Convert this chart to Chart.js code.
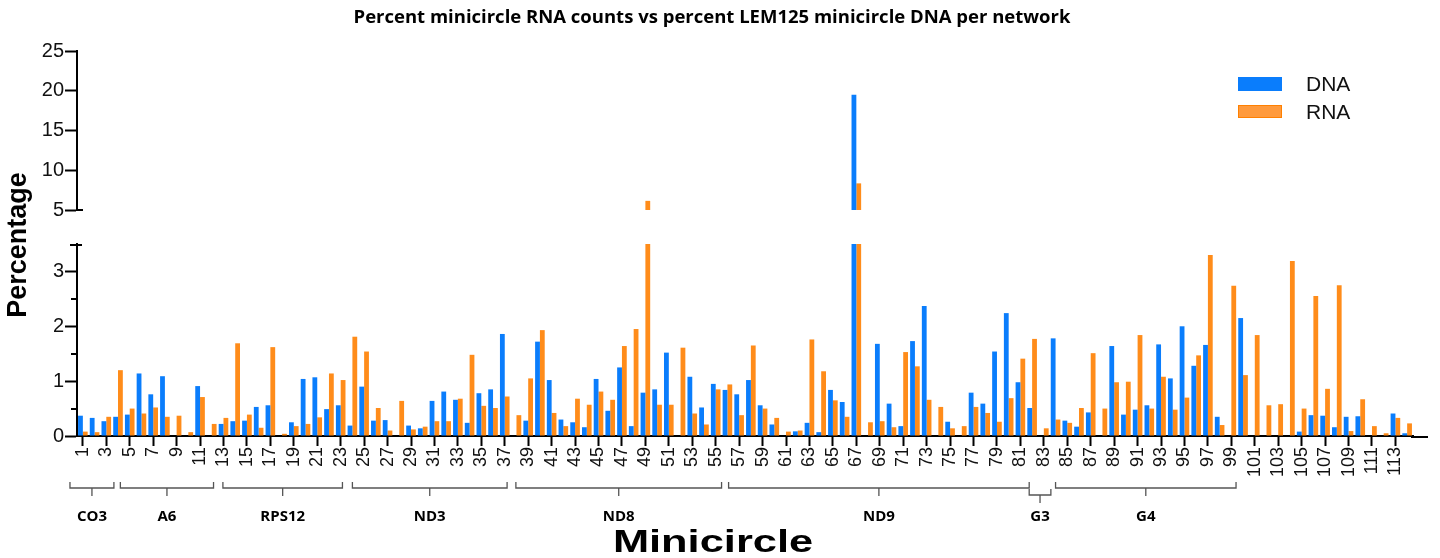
<!DOCTYPE html>
<html>
<head>
<meta charset="utf-8">
<script src="https://cdn.jsdelivr.net/npm/chart.js@4"></script>
<style>
  html, body { margin: 0; padding: 0; background: #fff; }
  canvas { display: block; }
</style>
</head>
<body>
<canvas id="chart" width="1440" height="558"></canvas>
<script>
// minicircle numbers 1..114
const minicircles = Array.from({ length: 114 }, (_, i) => String(i + 1));

// percent of LEM125 minicircle DNA per network
const dnaValues = [
  0.37, 0.33, 0.27, 0.35, 0.39, 1.14, 0.76, 1.09, 0, 0,
  0.91, 0, 0.22, 0.27, 0.28, 0.53, 0.56, 0, 0.25, 1.04,
  1.07, 0.49, 0.56, 0.19, 0.90, 0.28, 0.29, 0, 0.19, 0.14,
  0.64, 0.81, 0.66, 0.24, 0.78, 0.85, 1.86, 0, 0.28, 1.72,
  1.02, 0.30, 0.25, 0.16, 1.04, 0.46, 1.25, 0.18, 0.79, 0.85,
  1.52, 0, 1.08, 0.52, 0.95, 0.84, 0.76, 1.02, 0.56, 0.21,
  0, 0.085, 0.24, 0.07, 0.84, 0.62, 19.5, 0, 1.68, 0.59,
  0.18, 1.73, 2.37, 0, 0.26, 0, 0.79, 0.59, 1.54, 2.24,
  0.98, 0.51, 0, 1.78, 0.28, 0.17, 0.43, 0, 1.64, 0.39,
  0.48, 0.56, 1.67, 1.05, 2.0, 1.28, 1.66, 0.35, 0, 2.15,
  0, 0, 0, 0, 0.08, 0.38, 0.37, 0.16, 0.35, 0.36,
  0, 0, 0.41, 0.05
];

// percent of minicircle RNA counts
const rnaValues = [
  0.08, 0.07, 0.35, 1.2, 0.50, 0.41, 0.52, 0.35, 0.37, 0.07,
  0.71, 0.22, 0.33, 1.69, 0.39, 0.15, 1.62, 0.04, 0.18, 0.22,
  0.34, 1.14, 1.02, 1.81, 1.54, 0.51, 0.10, 0.64, 0.12, 0.17,
  0.27, 0.27, 0.68, 1.48, 0.55, 0.51, 0.72, 0.38, 1.05, 1.93,
  0.42, 0.18, 0.68, 0.57, 0.81, 0.66, 1.64, 1.95, 6.15, 0.57,
  0.57, 1.61, 0.41, 0.21, 0.85, 0.94, 0.38, 1.65, 0.50, 0.33,
  0.08, 0.10, 1.76, 1.18, 0.65, 0.35, 8.35, 0.25, 0.27, 0.16,
  1.53, 1.27, 0.66, 0.53, 0.14, 0.18, 0.53, 0.42, 0.26, 0.69,
  1.41, 1.77, 0.14, 0.30, 0.24, 0.51, 1.51, 0.50, 0.98, 0.99,
  1.84, 0.50, 1.08, 0.48, 0.70, 1.47, 3.30, 0.20, 2.74, 1.11,
  1.84, 0.56, 0.58, 3.19, 0.50, 2.55, 0.86, 2.75, 0.09, 0.67,
  0.18, 0.05, 0.33, 0.23
];

// y tick values of both axis segments
const lowTicks = [0, 1, 2, 3];
const lowMinorTicks = [0.5, 1.5, 2.5];
const highTicks = [5, 10, 15, 20, 25];

// gene groups under the x axis (bracket ends in minicircle units)
const groups = [
  { name: 'CO3', from: -0.1, to: 3.65 },
  { name: 'A6', from: 4.2, to: 12.15 },
  { name: 'RPS12', from: 12.95, to: 23.15 },
  { name: 'ND3', from: 24.0, to: 37.2 },
  { name: 'ND8', from: 37.95, to: 55.5 },
  { name: 'ND9', from: 56.1, to: 81.75 },
  { name: 'G3', from: 81.75, to: 83.6, low: true },
  { name: 'G4', from: 84.0, to: 99.4 }
];

const BLUE = '#0a7dfc';
const ORANGE = '#ff8c1a';

const decor = {
  id: 'decor',
  afterDraw(chart) {
    const { ctx, chartArea, scales } = chart;
    const x = scales.x, yLow = scales.y, yHigh = scales.y2;
    const left = chartArea.left;
    ctx.save();
    ctx.strokeStyle = '#000';
    ctx.lineWidth = 2;

    // minor ticks on the lower segment
    lowMinorTicks.forEach(v => {
      const py = Math.round(yLow.getPixelForValue(v));
      ctx.beginPath(); ctx.moveTo(left - 6, py); ctx.lineTo(left, py); ctx.stroke();
    });
    // break caps
    let py = Math.round(yLow.getPixelForValue(3.5)) + 1;
    ctx.beginPath(); ctx.moveTo(left - 7, py); ctx.lineTo(left + 5, py); ctx.stroke();
    py = Math.round(yHigh.getPixelForValue(5));
    ctx.beginPath(); ctx.moveTo(left, py); ctx.lineTo(left + 6, py); ctx.stroke();

    // x axis line runs a bit past the last bar
    py = chartArea.bottom;
    ctx.beginPath(); ctx.moveTo(chartArea.right - 2, py + 1); ctx.lineTo(chartArea.right + 15, py + 1); ctx.stroke();

    // title
    ctx.fillStyle = '#000';
    ctx.textAlign = 'center';
    ctx.textBaseline = 'middle';
    ctx.font = 'bold 18.5px "Open Sans"';
    ctx.fillText('Percent minicircle RNA counts vs percent LEM125 minicircle DNA per network', 712, 18);

    // axis titles
    ctx.save();
    ctx.translate(713, 543);
    ctx.scale(1.4, 1);
    ctx.font = 'bold 31px "Liberation Sans"';
    ctx.fillText('Minicircle', 0, 0);
    ctx.restore();
    ctx.save();
    ctx.translate(19, 245);
    ctx.rotate(-Math.PI / 2);
    ctx.font = 'bold 27px "Liberation Sans"';
    ctx.fillText('Percentage', 0, 0);
    ctx.restore();

    // gene brackets
    ctx.strokeStyle = '#555';
    ctx.lineWidth = 1.3;
    ctx.font = 'bold 15px "Open Sans"';
    groups.forEach(g => {
      const x0 = x.getPixelForValue(g.from - 1);
      const x1 = x.getPixelForValue(g.to - 1);
      const by = g.low ? 495 : 488;
      const mid = (x0 + x1) / 2;
      ctx.beginPath();
      ctx.moveTo(x0, by - 6); ctx.lineTo(x0, by); ctx.lineTo(x1, by); ctx.lineTo(x1, by - 6);
      ctx.moveTo(mid, by); ctx.lineTo(mid, by + 8);
      ctx.stroke();
      ctx.fillText(g.name, mid, 517);
    });

    // legend
    ctx.textAlign = 'left';
    ctx.font = '21px "Liberation Sans"';
    ctx.fillStyle = BLUE;
    ctx.fillRect(1238, 77, 44, 14);
    ctx.fillStyle = '#ff9a3c';
    ctx.fillRect(1238, 105, 44, 13);
    ctx.strokeStyle = '#ff8000';
    ctx.lineWidth = 1;
    ctx.strokeRect(1238.5, 105.5, 43, 12);
    ctx.fillStyle = '#111';
    ctx.fillText('DNA', 1306, 85);
    ctx.fillText('RNA', 1306, 113);
    ctx.restore();
  }
};

const axisFont = { family: '"Liberation Sans", Arial, sans-serif', size: 20 };

new Chart(document.getElementById('chart'), {
  type: 'bar',
  data: {
    labels: minicircles,
    datasets: [
      { label: 'DNA', data: dnaValues, backgroundColor: BLUE, stack: 'dna', yAxisID: 'y' },
      { label: 'RNA', data: rnaValues, backgroundColor: ORANGE, stack: 'rna', yAxisID: 'y' },
      { label: 'DNA', data: dnaValues.map(v => (v > 5 ? v : null)), backgroundColor: BLUE, stack: 'dna', yAxisID: 'y2' },
      { label: 'RNA', data: rnaValues.map(v => (v > 5 ? v : null)), backgroundColor: ORANGE, stack: 'rna', yAxisID: 'y2' }
    ]
  },
  options: {
    responsive: false,
    animation: false,
    devicePixelRatio: 1,
    layout: { padding: { top: 51, left: 0, right: 27, bottom: 0 } },
    datasets: { bar: { categoryPercentage: 0.82, barPercentage: 1.0, borderWidth: 0 } },
    plugins: { legend: { display: false }, tooltip: { enabled: false }, title: { display: false } },
    scales: {
      x: {
        type: 'category',
        offset: true,
        grid: { offset: false, drawOnChartArea: false, tickLength: 10, tickWidth: 2, tickColor: '#000' },
        border: { color: '#000', width: 2 },
        ticks: {
          autoSkip: false, minRotation: 90, maxRotation: 90, padding: 1,
          color: '#111', font: { family: axisFont.family, size: 18 },
          callback: (v, i) => (i % 2 === 0 ? minicircles[i] : null)
        },
        afterFit: s => { s.height = 122; }
      },
      y: {
        type: 'linear', stack: 'v', stackWeight: 192, weight: 1, position: 'left', stacked: false,
        min: 0, max: 3.5,
        grid: { drawOnChartArea: false, tickLength: 12, tickWidth: 2, tickColor: '#000' },
        border: { color: '#000', width: 2 },
        ticks: {
          color: '#111', font: axisFont, padding: 1, includeBounds: false, stepSize: 1, autoSkip: false,
          callback: v => (lowTicks.includes(v) ? String(v) : null)
        },
        afterFit: s => { s.width = 77; }
      },
      gap: {
        type: 'linear', stack: 'v', stackWeight: 34, weight: 2, position: 'left', display: false
      },
      y2: {
        type: 'linear', stack: 'v', stackWeight: 159, weight: 3, position: 'left', stacked: false,
        min: 5, max: 25,
        grid: { drawOnChartArea: false, tickLength: 12, tickWidth: 2, tickColor: '#000' },
        border: { color: '#000', width: 2 },
        ticks: {
          color: '#111', font: axisFont, padding: 1, stepSize: 5, autoSkip: false,
          callback: v => (highTicks.includes(v) ? String(v) : null)
        },
        afterFit: s => { s.width = 77; }
      }
    }
  },
  plugins: [decor]
});
</script>
</body>
</html>
